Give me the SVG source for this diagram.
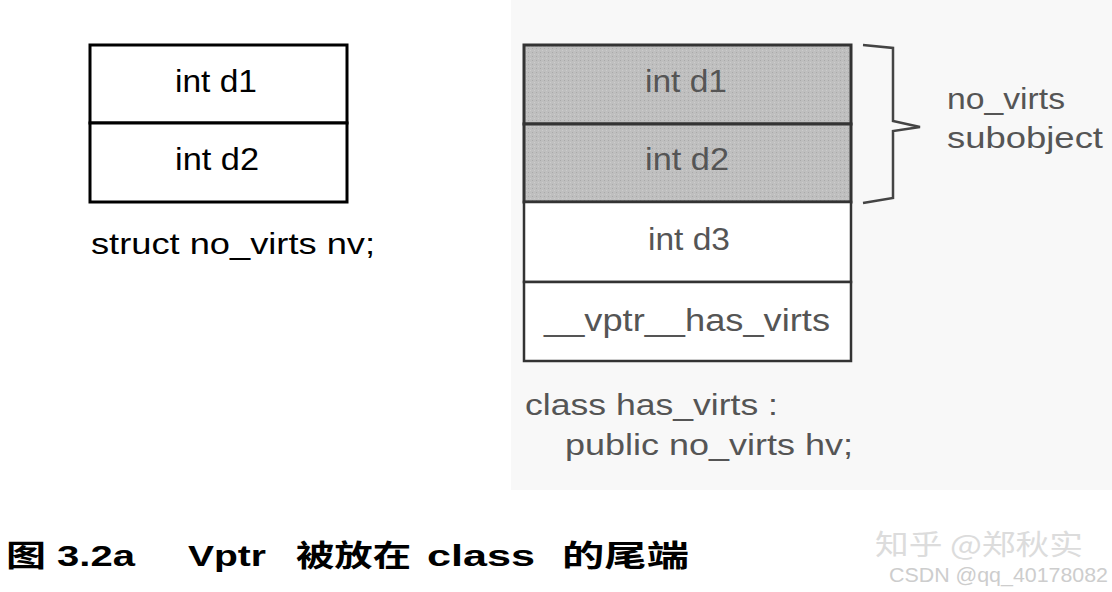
<svg xmlns="http://www.w3.org/2000/svg" width="1112" height="592" viewBox="0 0 1112 592">
<defs>
<pattern id="dots" width="4" height="4" patternUnits="userSpaceOnUse">
<rect width="4" height="4" fill="#bfbfbf"/>
<rect width="1" height="1" fill="#a9a9a9"/>
<rect x="2" y="2" width="1" height="1" fill="#cccccc"/>
</pattern>
</defs>
<style>
.lbox{fill:#fff;stroke:#000;stroke-width:3}
.rbox{fill:#fff;stroke:#333;stroke-width:2.5}
.shade{fill:url(#dots);stroke:#333;stroke-width:3}
.t{font-family:"Liberation Sans",Arial,sans-serif;font-size:31px}
.lt{fill:#000}
.rt{fill:#555}
.side{font-family:"Liberation Sans",Arial,sans-serif;font-size:29px;fill:#555}
.cap{font-family:"Liberation Sans","Noto Sans CJK SC",sans-serif;font-size:30px;font-weight:bold;fill:#000}
</style>
<rect x="0" y="0" width="1112" height="592" fill="#fff"/>
<rect x="511" y="0" width="601" height="490" fill="#f8f8f8"/>

<g id="left-struct">
<rect class="lbox" x="90" y="45" width="257" height="78"/>
<rect class="lbox" x="90" y="123" width="257" height="79"/>
<text class="t lt" x="175" y="92" textLength="82" lengthAdjust="spacingAndGlyphs">int d1</text>
<text class="t lt" x="175" y="170" textLength="84" lengthAdjust="spacingAndGlyphs">int d2</text>
<text class="side" x="91" y="254" style="fill:#000" textLength="284" lengthAdjust="spacingAndGlyphs">struct no_virts nv;</text>
</g>

<g id="right-class">
<rect class="shade" x="524" y="45" width="327" height="79"/>
<rect class="shade" x="524" y="124" width="327" height="78"/>
<rect class="rbox" x="524" y="202" width="327" height="80"/>
<rect class="rbox" x="524" y="282" width="327" height="79"/>
<text class="t rt" x="645" y="92" textLength="82" lengthAdjust="spacingAndGlyphs">int d1</text>
<text class="t rt" x="645" y="170" textLength="84" lengthAdjust="spacingAndGlyphs">int d2</text>
<text class="t rt" x="648" y="250" textLength="82" lengthAdjust="spacingAndGlyphs">int d3</text>
<text class="t rt" x="544" y="331" textLength="286" lengthAdjust="spacingAndGlyphs">__vptr__has_virts</text>
<text class="side" x="525" y="415" textLength="253" lengthAdjust="spacingAndGlyphs">class has_virts :</text>
<text class="side" x="565" y="455" textLength="288" lengthAdjust="spacingAndGlyphs">public no_virts hv;</text>
</g>

<g id="connectors">
<path d="M863 45 L893 48 L893 121 L920 127 L893 131 L893 198 L863 203" fill="none" stroke="#444" stroke-width="2.5" stroke-linejoin="miter"/>
</g>

<g id="brace-label">
<text class="side" x="947" y="109" textLength="118" lengthAdjust="spacingAndGlyphs">no_virts</text>
<text class="side" x="947" y="148" textLength="156" lengthAdjust="spacingAndGlyphs">subobject</text>
</g>

<g id="caption">
<text class="cap" x="6" y="566" textLength="129" lengthAdjust="spacingAndGlyphs">图 3.2a</text>
<text class="cap" x="188" y="566" textLength="78" lengthAdjust="spacingAndGlyphs">Vptr</text>
<text class="cap" x="296" y="566" textLength="115" lengthAdjust="spacingAndGlyphs">被放在</text>
<text class="cap" x="427" y="566" textLength="108" lengthAdjust="spacingAndGlyphs">class</text>
<text class="cap" x="562" y="566" textLength="127" lengthAdjust="spacingAndGlyphs">的尾端</text>
</g>

<g id="watermark">
<text x="875" y="555" textLength="208" lengthAdjust="spacingAndGlyphs" style="font-family:'Noto Sans CJK SC',sans-serif;font-size:28px;fill:#dcdcdc">知乎 @郑秋实</text>
<text x="889" y="582" textLength="219" lengthAdjust="spacingAndGlyphs" style="font-family:'Liberation Sans',Arial,sans-serif;font-size:20px;fill:#cdcdcd">CSDN @qq_40178082</text>
</g>
</svg>
